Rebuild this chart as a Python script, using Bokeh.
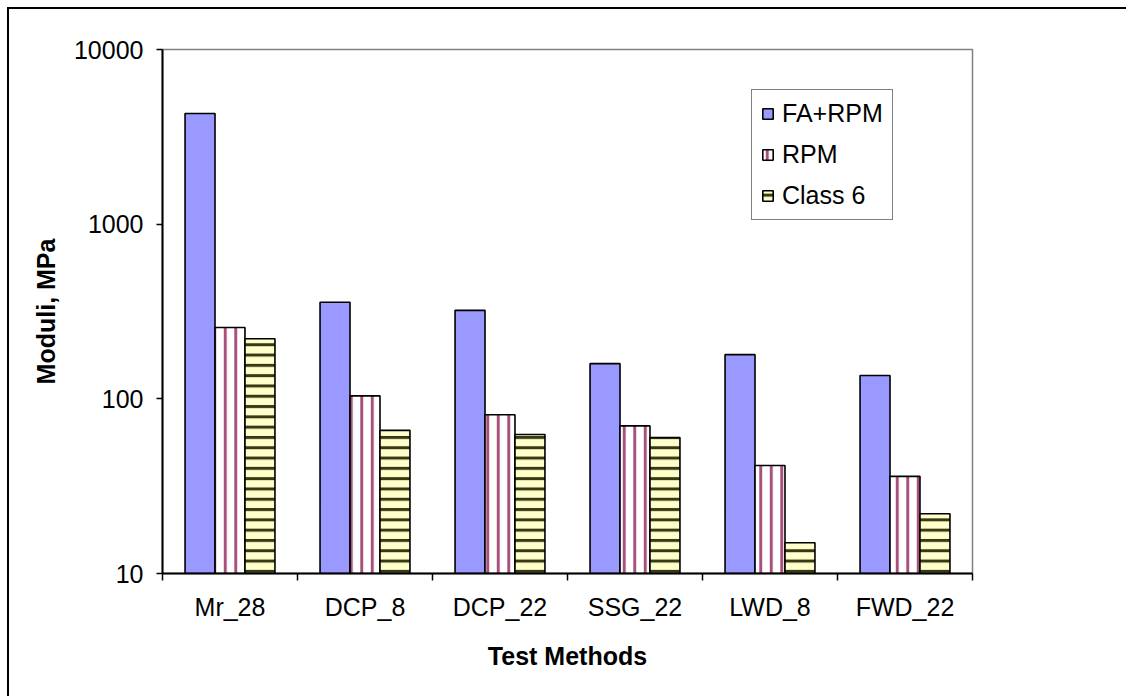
from bokeh.plotting import figure
from bokeh.models import FixedTicker, NumeralTickFormatter, Legend, LegendItem, Range1d
from bokeh.embed import file_html
from bokeh.resources import INLINE

categories = ["Mr_28", "DCP_8", "DCP_22", "SSG_22", "LWD_8", "FWD_22"]
series_names = ["FA+RPM", "RPM", "Class 6"]
fa_rpm = [4300, 357, 321, 159, 179, 136]
rpm = [256, 104, 81, 70, 41.5, 36]
class6 = [221, 66, 62.5, 60, 15, 22]
y_ticks = [10, 100, 1000, 10000]

FONT = "Liberation Sans"
FS = "25px"

p = figure(frame_width=810, frame_height=524,
           x_range=Range1d(-0.5, len(categories) - 0.5),
           y_range=Range1d(10, 10000), y_axis_type="log",
           output_backend="svg", toolbar_location=None,
           min_border_left=153, min_border_right=154,
           min_border_top=40, min_border_bottom=123,
           background_fill_color="white", border_fill_color="white")
p.styles = {"border-top": "2px solid black", "border-left": "2px solid black",
            "margin-top": "7px", "margin-left": "7px"}

idx = list(range(len(categories)))
bw = 0.222
r1 = p.vbar(x=[i - bw for i in idx], top=fa_rpm, bottom=10, width=bw,
            fill_color="#9999FF", line_color="black", line_width=1.6)
r2 = p.vbar(x=idx, top=rpm, bottom=10, width=bw,
            fill_color="white", line_color="black", line_width=1.6,
            hatch_pattern="|", hatch_color="#993366", hatch_weight=3,
            hatch_scale=10.5, hatch_alpha=0.85)
r3 = p.vbar(x=[i + bw for i in idx], top=class6, bottom=10, width=bw,
            fill_color="#FFFFCC", line_color="black", line_width=1.6,
            hatch_pattern="-", hatch_color="#222200", hatch_weight=3,
            hatch_scale=10.3, hatch_alpha=0.9)

p.xgrid.visible = False
p.ygrid.visible = False
p.outline_line_color = "#808080"
p.outline_line_width = 1.5

xa = p.xaxis[0]
xa.ticker = FixedTicker(ticks=idx, minor_ticks=[i - 0.5 for i in range(len(categories) + 1)])
xa.major_label_overrides = {i: c for i, c in enumerate(categories)}
xa.major_tick_in = 0
xa.major_tick_out = 0
xa.minor_tick_in = 0
xa.minor_tick_out = 7
xa.minor_tick_line_color = "black"
xa.minor_tick_line_width = 1.5
xa.axis_line_color = "black"
xa.axis_line_width = 2
xa.major_label_text_font = FONT
xa.major_label_text_font_size = FS
xa.major_label_text_color = "black"
xa.major_label_standoff = 12
xa.axis_label = "Test Methods"
xa.axis_label_text_font = FONT
xa.axis_label_text_font_size = FS
xa.axis_label_text_font_style = "bold"
xa.axis_label_text_color = "black"
xa.axis_label_standoff = 18

ya = p.yaxis[0]
ya.ticker = FixedTicker(ticks=y_ticks, minor_ticks=[])
ya.formatter = NumeralTickFormatter(format="0")
ya.major_tick_in = 0
ya.major_tick_out = 6
ya.major_tick_line_color = "black"
ya.major_tick_line_width = 1.5
ya.minor_tick_line_color = None
ya.axis_line_color = "black"
ya.axis_line_width = 2
ya.major_label_text_font = FONT
ya.major_label_text_font_size = FS
ya.major_label_text_color = "black"
ya.major_label_standoff = 13
ya.axis_label = "Moduli, MPa"
ya.axis_label_text_font = FONT
ya.axis_label_text_font_size = FS
ya.axis_label_text_font_style = "bold"
ya.axis_label_text_color = "black"
ya.axis_label_standoff = 11

legend = Legend(items=[LegendItem(label=series_names[0], renderers=[r1]),
                       LegendItem(label=series_names[1], renderers=[r2]),
                       LegendItem(label=series_names[2], renderers=[r3])],
                location=(589, 353))
legend.border_line_color = "black"
legend.border_line_width = 1.5
legend.background_fill_color = "white"
legend.background_fill_alpha = 1
legend.label_text_font = FONT
legend.label_text_font_size = FS
legend.label_text_color = "black"
legend.glyph_width = 13
legend.glyph_height = 13
legend.label_standoff = 8
legend.label_height = 28
legend.spacing = 12
legend.padding = 9
legend.margin = 0
p.add_layout(legend)

open("out.html", "w").write(file_html(p, INLINE))
